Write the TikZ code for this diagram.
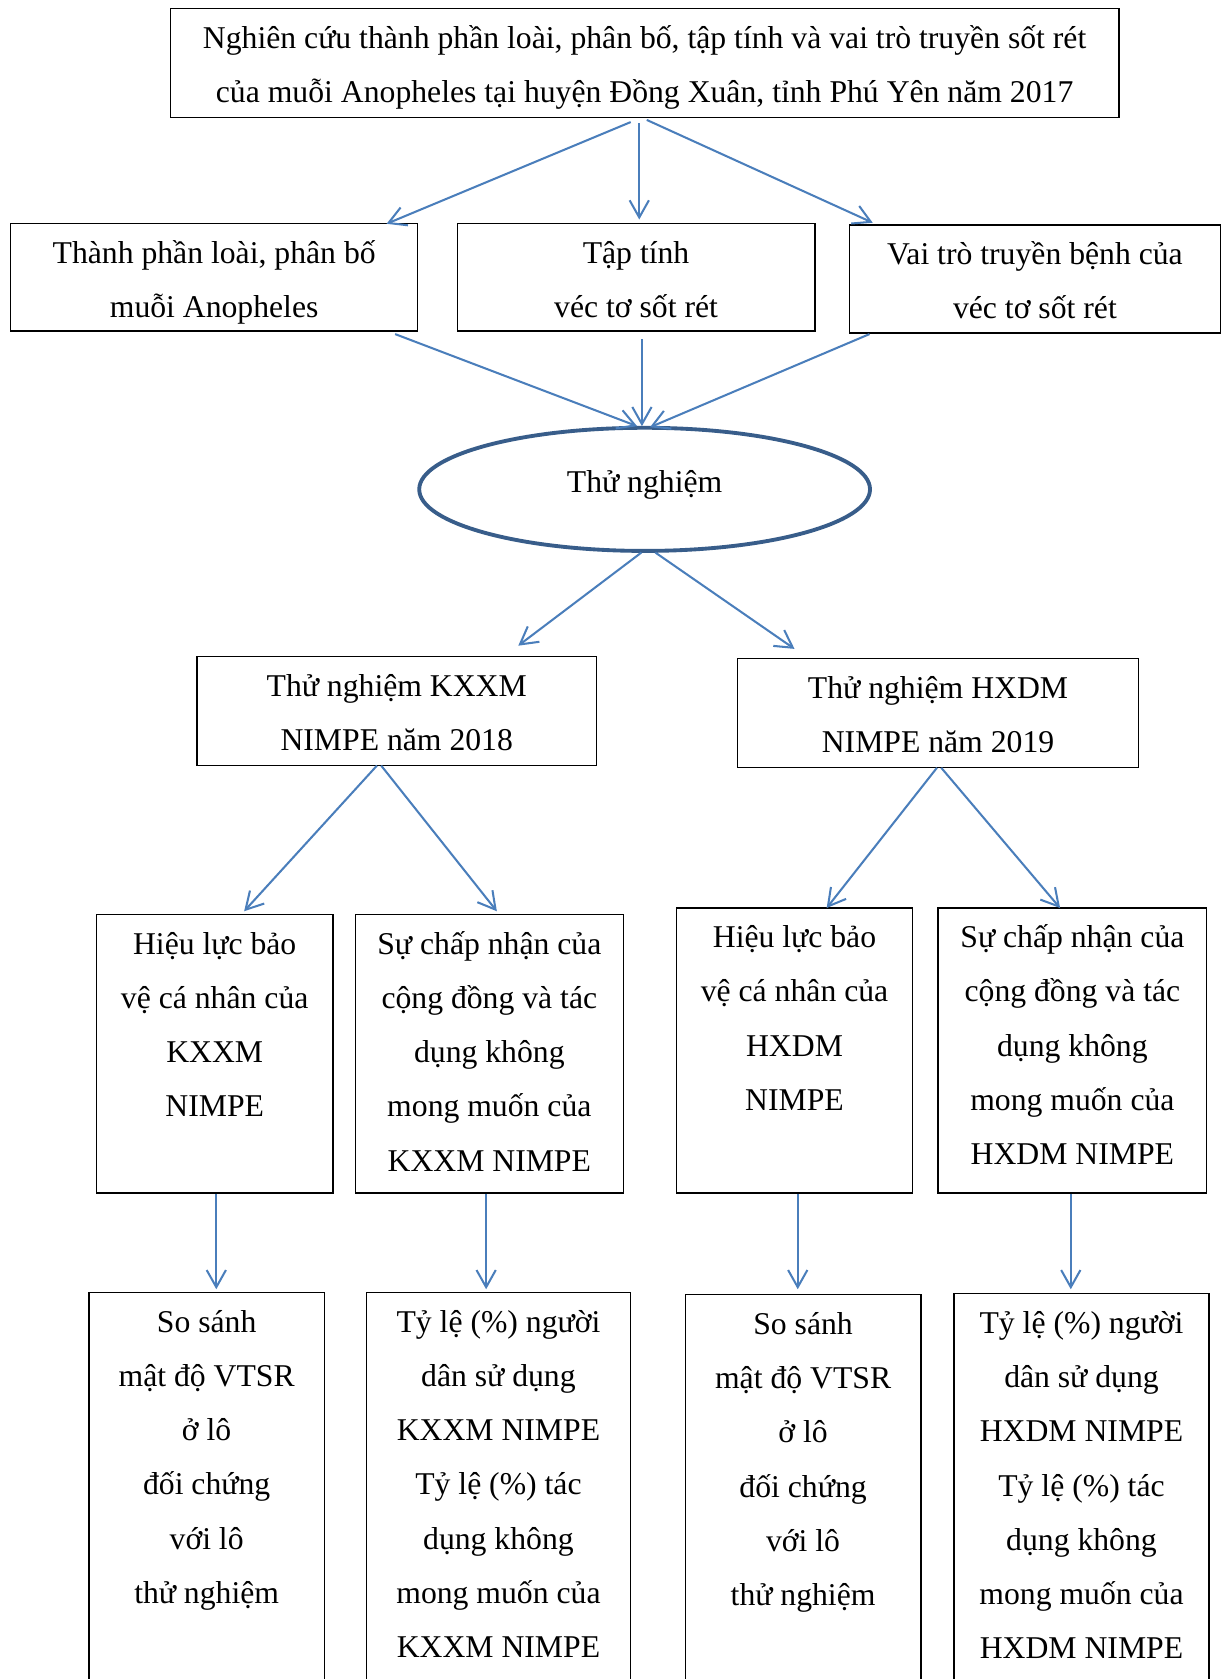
\documentclass[tikz,border=0pt]{standalone}
\usepackage{fontspec}
\setmainfont{Liberation Serif}
\usetikzlibrary{arrows.meta,calc,shapes.geometric}
\definecolor{arrowblue}{HTML}{4A7EBB}
\definecolor{ellblue}{HTML}{385D8A}
\tikzset{
  boxst/.style={draw=black, line width=0.6pt, rectangle, inner sep=0pt, outer sep=0pt},
  txt/.style={anchor=base, align=center, inner sep=0pt, font=\fontsize{14.8}{25.35}\selectfont},
  ellst/.style={draw=ellblue, line width=1.8pt, ellipse, inner sep=0pt, outer sep=0pt},
  conn/.style={draw=arrowblue, line width=0.95pt, -{Straight Barb[length=8pt,width=9pt,line width=0.95pt]}}
}
\newcommand\mybox[5]{\node[boxst, minimum width={(#4-#2)*0.5pt}, minimum height={(#5-#3)*0.5pt}] (#1) at ({(#2+#4)/2},{(#3+#5)/2}) {};}
% #1 box name, #2 number of lines, #3 text (node base = last line's baseline)
\newcommand\mytext[3]{\node[txt] (#1-t) at ([yshift={-18.5pt-(#2-1)*25.35pt}]#1.north) {#3};}
\begin{document}
\begin{tikzpicture}[x=0.5pt,y=-0.5pt]
\useasboundingbox (0,0) rectangle (1144,1568);
\clip (0,0) rectangle (1144,1568);
\fill[white] (0,0) rectangle (1144,1568);
% boxes
\mybox{top}{159}{8}{1045}{110}
\mybox{A}{10}{209}{390}{309}
\mybox{B}{427}{209}{761}{309}
\mybox{C}{793}{210}{1140}{311}
\node[ellst, minimum width=210.5pt, minimum height=57.5pt] (E) at (602,457) {};
\mybox{K}{184}{613}{557}{715}
\mybox{H}{689}{615}{1063}{717}
\mybox{B1}{90}{854}{311}{1114}
\mybox{B2}{332}{854}{582}{1114}
\mybox{B3}{632}{848}{852}{1114}
\mybox{B4}{876}{848}{1127}{1114}
\mybox{C1}{83}{1207}{303}{1600}
\mybox{C2}{342}{1207}{589}{1600}
\mybox{C3}{640}{1209}{860}{1600}
\mybox{C4}{891}{1208}{1129}{1600}
% texts
\mytext{top}{2}{Nghiên cứu thành phần loài, phân bố, tập tính và vai trò truyền sốt rét\\của muỗi Anopheles tại huyện Đồng Xuân, tỉnh Phú Yên năm 2017}
\mytext{A}{2}{Thành phần loài, phân bố\\muỗi Anopheles}
\mytext{B}{2}{Tập tính\\véc tơ sốt rét}
\mytext{C}{2}{Vai trò truyền bệnh của\\véc tơ sốt rét}
\node[txt] (E-t) at ([yshift=-1.5pt]E.center) {Thử nghiệm};
\mytext{K}{2}{Thử nghiệm KXXM\\NIMPE năm 2018}
\mytext{H}{2}{Thử nghiệm HXDM\\NIMPE năm 2019}
\mytext{B1}{4}{Hiệu lực bảo\\vệ cá nhân của\\KXXM\\NIMPE}
\mytext{B2}{5}{Sự chấp nhận của\\cộng đồng và tác\\dụng không\\mong muốn của\\KXXM NIMPE}
\mytext{B3}{4}{Hiệu lực bảo\\vệ cá nhân của\\HXDM\\NIMPE}
\mytext{B4}{5}{Sự chấp nhận của\\cộng đồng và tác\\dụng không\\mong muốn của\\HXDM NIMPE}
\mytext{C1}{6}{So sánh\\mật độ VTSR\\ở lô\\đối chứng\\với lô\\thử nghiệm}
\mytext{C2}{7}{Tỷ lệ (\%) người\\dân sử dụng\\KXXM NIMPE\\Tỷ lệ (\%) tác\\dụng không\\mong muốn của\\KXXM NIMPE}
\mytext{C3}{6}{So sánh\\mật độ VTSR\\ở lô\\đối chứng\\với lô\\thử nghiệm}
\mytext{C4}{7}{Tỷ lệ (\%) người\\dân sử dụng\\HXDM NIMPE\\Tỷ lệ (\%) tác\\dụng không\\mong muốn của\\HXDM NIMPE}
% connectors
\draw[conn] ($(top.south)+(-13,4)$) -- ($(A.north east)+(-29,0)$);
\draw[conn] ($(top.south)+(-5,5)$) -- ($(B.north)+(3,-4)$);
\draw[conn] ($(top.south)+(2,2)$) -- ($(C.north west)+(22,-2)$);
\draw[conn] ($(A.south east)+(-21,3)$) -- ($(E.north)+(-7,-1.5)$);
\draw[conn] ($(B.south)+(5.5,8)$) -- ($(E.north)+(-2.5,-1.5)$);
\draw[conn] ($(C.south west)+(19,1)$) -- ($(E.north)+(5,-0.5)$);
\draw[conn] ($(E.south)+(-3,1.5)$) -- ($(K.north east)+(-73,-10)$);
\draw[conn] ($(E.south)+(10,1.5)$) -- ($(H.north west)+(53,-9)$);
\draw[conn] ($(K.south)+(-18.5,0)$) -- ($(B1.north east)+(-83,-3)$);
\draw[conn] ($(K.south)+(-14.5,0)$) -- ($(B2.north west)+(132,-3)$);
\draw[conn] ($(H.south)+(-1,0)$) -- ($(B3.north east)+(-80,0)$);
\draw[conn] ($(H.south)+(3,0)$) -- ($(B4.north west)+(114,0)$);
\draw[conn] ($(B1.south)+(1.5,1)$) -- ($(C1.north)+(9,-3)$);
\draw[conn] ($(B2.south)+(-3,1)$) -- ($(C2.north)+(-11.5,-3)$);
\draw[conn] ($(B3.south)+(3,1)$) -- ($(C3.north)+(-5,-5)$);
\draw[conn] ($(B4.south)+(-1.5,1)$) -- ($(C4.north)+(-10,-4)$);
\end{tikzpicture}
\end{document}
